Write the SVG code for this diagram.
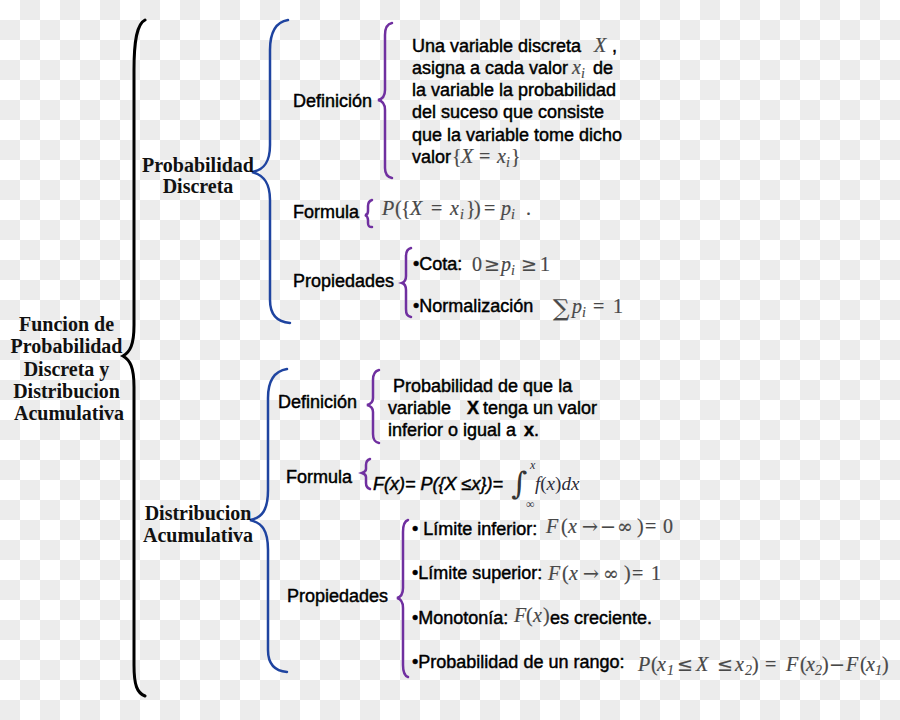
<svg xmlns="http://www.w3.org/2000/svg" width="900" height="720" viewBox="0 0 900 720">
<defs>
<pattern id="chk" width="40" height="40" patternUnits="userSpaceOnUse">
<rect width="40" height="40" fill="#ffffff"/>
<rect x="20" y="0" width="20" height="20" fill="#ececec"/>
<rect x="0" y="20" width="20" height="20" fill="#ececec"/>
</pattern>
<style>
.t{font-family:"Liberation Serif","Times New Roman",serif;font-weight:bold;font-size:20px;fill:#111}
.s{font-family:"Liberation Sans",Arial,sans-serif;font-size:18px;fill:#000;stroke:#000;stroke-width:0.45}
.b{font-weight:bold}
.m{font-family:"Liberation Serif","Times New Roman",serif;font-style:italic;font-size:20px;fill:#484848;stroke:#484848;stroke-width:0.2}
.mu{font-style:normal}
.op{font-family:"DejaVu Serif",serif;font-style:normal;font-size:19px}
.sum{font-family:"DejaVu Serif",serif;font-style:normal;font-size:23px}
.ms{font-family:"Liberation Serif","Times New Roman",serif;font-style:italic;font-size:14px;fill:#484848;stroke:#484848;stroke-width:0.15}
.fi{font-family:"Liberation Sans",Arial,sans-serif;font-style:italic;font-size:18px;fill:#000;stroke:#000;stroke-width:0.45}
.fx{font-family:"Liberation Serif","Times New Roman",serif;font-style:italic;font-size:19px;fill:#2c2c3a}
.ig{font-family:"DejaVu Serif",serif;font-style:normal;font-size:31px;fill:#333}
.lim{font-size:12px}
.k{fill:none;stroke:#000;stroke-width:3;stroke-linecap:round}
.bl{fill:none;stroke:#1f44a0;stroke-width:2.5;stroke-linecap:round}
.pu{fill:none;stroke:#7030a0;stroke-width:2.5;stroke-linecap:round}
</style>
</defs>
<rect width="900" height="720" fill="url(#chk)"/>

<g id="connectors">
<path class="k" d="M145,20 C137,24 134,40 134,70 L134,325 C134,345 130,352 123,356 C130,360 134,367 134,387 L134,665 C134,685 137,693 145,696"/>
<path class="bl" d="M288,20 C276,22 270,32 270,50 L270,145 C270,162 264,170 252,172 C264,175 270,183 270,200 L270,300 C270,315 277,322 290,323"/>
<path class="bl" d="M287,369 C275,371 268,380 268,398 L268,490 C268,510 262,518 250,520 C262,523 268,530 268,550 L268,650 C268,665 275,671 287,672"/>
<path class="pu" d="M392,23 C387,24 385,28 385,35 L385,90 C385,96 383,99 378,100 C383,101 385,104 385,110 L385,168 C385,174 387,177 392,178"/>
<path class="pu" d="M372,200 C369,201 368,203 368,206 L368,211 C368,213 367,215 365,215 C367,216 368,217 368,220 L368,223 C368,226 369,227 372,227"/>
<path class="pu" d="M411,248 C407,249 406,252 406,256 L406,276 C406,280 405,282 402,283 C405,284 406,286 406,290 L406,309 C406,314 407,316 411,317"/>
<path class="pu" d="M379,370 C375,371 373,374 373,380 L373,398 C373,402 371,404 367,405 C371,406 373,408 373,412 L373,434 C373,440 375,442 379,443"/>
<path class="pu" d="M370,459 C367,460 366,462 366,465 L366,469 C366,471 365,472 362,473 C365,474 366,475 366,477 L366,483 C366,486 367,488 370,489"/>
<path class="pu" d="M408,520 C405,521 403,525 403,532 L403,588 C403,594 401,597 397,598 C401,599 403,602 403,608 L403,665 C403,672 405,676 408,677"/>
</g>

<g id="root">
<text class="t" text-anchor="middle">
<tspan x="69" y="331">Funcion de</tspan>
<tspan x="69" y="353">Probabilidad</tspan>
<tspan x="69" y="376">Discreta y</tspan>
<tspan x="69" y="398">Distribucion</tspan>
<tspan x="69" y="420">Acumulativa</tspan>
</text>
</g>

<g id="prob-discreta">
<text class="t" text-anchor="middle"><tspan x="198" y="172">Probabilidad</tspan><tspan x="198" y="193">Discreta</tspan></text>
</g>

<g id="distribucion">
<text class="t" text-anchor="middle"><tspan x="198" y="520">Distribucion</tspan><tspan x="198" y="542">Acumulativa</tspan></text>
</g>

<g id="pd-definicion">
<text class="s" x="293" y="107">Definición</text>
</g>
<g id="pd-definicion-texto">
<text class="s" x="412" y="52">Una variable discreta</text>
<text class="m" x="594" y="52">X</text>
<text class="s" x="612" y="52">,</text>
<text class="s" x="412" y="74">asigna a cada valor</text>
<text class="m" x="572" y="74">x</text><text class="ms" x="581" y="78">i</text>
<text class="s" x="593" y="74">de</text>
<text class="s" x="412" y="96">la variable la probabilidad</text>
<text class="s" x="412" y="118">del suceso que consiste</text>
<text class="s" x="412" y="141">que la variable tome dicho</text>
<text class="s" x="412" y="163">valor</text>
<text class="m" y="163"><tspan class="mu" x="452">{</tspan><tspan x="461">X</tspan><tspan class="mu" x="479">=</tspan><tspan x="497">x</tspan></text><text class="ms" x="506" y="167">i</text><text class="m mu" x="511" y="163">}</text>
</g>

<g id="pd-formula">
<text class="s" x="293" y="218">Formula</text>
<text class="m" y="215"><tspan x="382">P</tspan><tspan class="mu" x="395">(</tspan><tspan class="mu" x="401">{</tspan><tspan x="410">X</tspan><tspan class="mu" x="431">=</tspan><tspan x="450">x</tspan></text>
<text class="ms" x="460" y="219">i</text>
<text class="m mu" y="215"><tspan x="466">}</tspan><tspan x="474">)</tspan><tspan x="484">=</tspan></text>
<text class="m" x="501" y="215">p</text><text class="ms" x="511" y="219">i</text>
<text class="m mu" x="526" y="215">.</text>
</g>

<g id="pd-propiedades">
<text class="s" x="293" y="287">Propiedades</text>
<text class="s" x="413" y="270">•Cota:</text>
<text class="m mu" y="271"><tspan x="472">0</tspan><tspan class="op" x="484">≥</tspan></text>
<text class="m" x="501" y="271">p</text><text class="ms" x="511" y="275">i</text>
<text class="m mu" y="271"><tspan class="op" x="521">≥</tspan><tspan x="540">1</tspan></text>
<text class="s" x="413" y="312">•Normalización</text>
<text class="m sum" x="553" y="316">∑</text>
<text class="m" x="572" y="313">p</text><text class="ms" x="582" y="317">i</text>
<text class="m mu" y="313"><tspan x="593">=</tspan><tspan x="613">1</tspan></text>
</g>

<g id="da-definicion">
<text class="s" x="278" y="408">Definición</text>
<text class="s" x="393" y="392">Probabilidad de que la</text>
<text class="s" y="414"><tspan x="388">variable</tspan><tspan class="b" x="467">X</tspan><tspan x="483">tenga un valor</tspan></text>
<text class="s" y="436"><tspan x="388">inferior o igual a</tspan><tspan class="b" x="524">x</tspan><tspan>.</tspan></text>
</g>

<g id="da-formula">
<text class="s" x="286" y="483">Formula</text>
<text class="fi" x="373" y="490">F(x)= P({X ≤x})=</text>
<text class="fx"><tspan class="ig" x="511" y="494">∫</tspan><tspan class="lim" x="530" y="469">x</tspan><tspan class="lim mu" x="526" y="508">∞</tspan><tspan x="535" y="490">f</tspan><tspan class="mu">(</tspan><tspan>x</tspan><tspan class="mu">)</tspan><tspan>dx</tspan></text>
</g>

<g id="da-propiedades">
<text class="s" x="287" y="602">Propiedades</text>
<text class="s" x="412" y="535">• Límite inferior:</text>
<text class="m" y="533"><tspan x="546">F</tspan><tspan class="mu" x="561">(</tspan><tspan x="568">x</tspan><tspan class="op" x="582">→</tspan><tspan class="op" x="600">−</tspan><tspan class="op" x="617">∞</tspan><tspan class="mu" x="637">)</tspan><tspan class="mu" x="645">=</tspan><tspan class="mu" x="663">0</tspan></text>
<text class="s" x="412" y="579">•Límite superior:</text>
<text class="m" y="580"><tspan x="548">F</tspan><tspan class="mu" x="562">(</tspan><tspan x="569">x</tspan><tspan class="op" x="583">→</tspan><tspan class="op" x="603">∞</tspan><tspan class="mu" x="624">)</tspan><tspan class="mu" x="632">=</tspan><tspan class="mu" x="651">1</tspan></text>
<text class="s" x="412" y="624">•Monotonía:</text>
<text class="m" y="622"><tspan x="514">F</tspan><tspan class="mu" x="526">(</tspan><tspan x="533">x</tspan><tspan class="mu" x="543">)</tspan></text>
<text class="s" x="550" y="624">es creciente.</text>
<text class="s" x="412" y="668">•Probabilidad de un rango:</text>
<text class="m" y="671"><tspan x="638">P</tspan><tspan class="mu" x="651">(</tspan><tspan x="657">x</tspan></text>
<text class="ms mu" x="667" y="675">1</text>
<text class="m" y="671"><tspan class="op" x="677">≤</tspan><tspan x="696">X</tspan><tspan class="op" x="717">≤</tspan><tspan x="735">x</tspan></text>
<text class="ms mu" x="745" y="675">2</text>
<text class="m" y="671"><tspan class="mu" x="752">)</tspan><tspan class="mu" x="765">=</tspan><tspan x="786">F</tspan><tspan class="mu" x="800">(</tspan><tspan x="806">x</tspan></text>
<text class="ms mu" x="815" y="675">2</text>
<text class="m" y="671"><tspan class="mu" x="822">)</tspan><tspan class="op" x="829">−</tspan><tspan x="846">F</tspan><tspan class="mu" x="860">(</tspan><tspan x="866">x</tspan></text>
<text class="ms mu" x="875" y="675">1</text>
<text class="m mu" x="882" y="671">)</text>
</g>
</svg>
